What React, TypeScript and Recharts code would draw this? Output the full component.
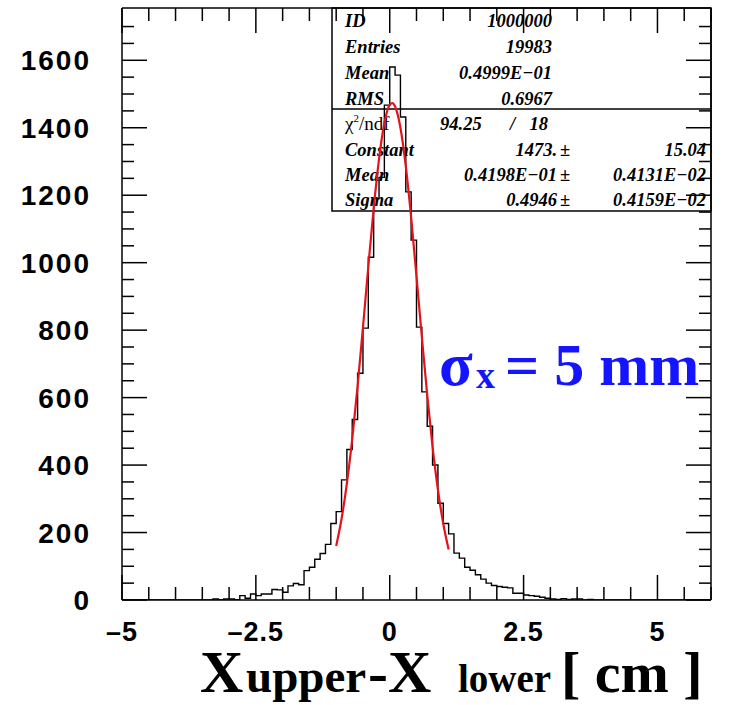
import React from "react";
import { ComposedChart, Line, XAxis, YAxis, ReferenceLine } from "recharts";

// histogram: counts per 0.1 cm bin, starting at -3.3 (everything outside is empty)
const binStart = -3.3;
const binWidth = 0.1;
const binCounts = [
  3, 1, 3, 3, 1, 13, 5, 18, 13, 18,
  18, 31, 30, 23, 42, 49, 45, 87, 97, 121,
  138, 165, 227, 262, 356, 446, 535, 672, 806, 1016,
  1190, 1253, 1467, 1580, 1556, 1432, 1210, 1067, 809, 617,
  515, 400, 287, 227, 196, 139, 124, 97, 88, 75,
  62, 50, 43, 40, 38, 36, 20, 20, 15, 13,
  11, 8, 5, 3, 2, 4, 2, 3, 3, 0,
  2,
];

// gaussian fit curve
const fitX = [-1.0, -0.9, -0.8, -0.7, -0.6, -0.5, -0.4, -0.3, -0.2, -0.1, 0.0, 0.05, 0.1, 0.2, 0.3, 0.4, 0.5, 0.6, 0.7, 0.8, 0.9, 1.0, 1.1];
const fitY = [160, 240, 346, 478, 634, 808, 988, 1160, 1307, 1414, 1468, 1473, 1463, 1400, 1286, 1134, 959, 780, 608, 455, 327, 226, 150];

const xTicks = [-5, -4.5, -4, -3.5, -3, -2.5, -2, -1.5, -1, -0.5, 0, 0.5, 1, 1.5, 2, 2.5, 3, 3.5, 4, 4.5, 5, 5.5, 6];
const xMajorTicks = [-5, -2.5, 0, 2.5, 5];
const xTickLabels = ["\u20135", "\u20132.5", "0", "2.5", "5"];
const yTicks = [0, 50, 100, 150, 200, 250, 300, 350, 400, 450, 500, 550, 600, 650, 700, 750, 800, 850, 900, 950, 1000, 1050, 1100, 1150, 1200, 1250, 1300, 1350, 1400, 1450, 1500, 1550, 1600, 1650, 1700];
const yMajorTicks = [0, 200, 400, 600, 800, 1000, 1200, 1400, 1600];

const statRows = [
  ["ID", "1000000"],
  ["Entries", "19983"],
  ["Mean", "0.4999E\u221201"],
  ["RMS", "0.6967"],
];
const chiNdf = ["94.25", "18"];
const fitRows = [
  ["Constant", "1473.", "15.04"],
  ["Mean", "0.4198E\u221201", "0.4131E\u221202"],
  ["Sigma", "0.4946", "0.4159E\u221202"],
];

const W = 732;
const H = 705;
const LEFT = 122;
const RIGHT = 711;
const TOP = 8;
const BOTTOM = 600;

const histData = [
  { x: -5, y: 0 },
  ...binCounts.map((c, i) => ({ x: binStart + i * binWidth, y: c })),
  { x: binStart + binCounts.length * binWidth, y: 0 },
  { x: 6, y: 0 },
];
const fitData = fitX.map((x, i) => ({ x, y: fitY[i] }));

const sans = "'Liberation Sans', Arial, Helvetica, sans-serif";
const serif = "'Liberation Serif', 'Times New Roman', serif";

const XTick = (props: any) => {
  const { x, payload } = props;
  const idx = xMajorTicks.indexOf(payload.value);
  const len = idx >= 0 ? 25 : 13;
  return (
    <g>
      <line x1={x} x2={x} y1={BOTTOM} y2={BOTTOM - len} stroke="#000" strokeWidth={1.5} />
      <line x1={x} x2={x} y1={TOP} y2={TOP + len} stroke="#000" strokeWidth={1.5} />
      {idx >= 0 && (
        <text x={x} y={641} textAnchor="middle" fontFamily={sans} fontWeight="bold" fontSize={27} letterSpacing={1} fill="#000">
          {xTickLabels[idx]}
        </text>
      )}
    </g>
  );
};

const YTick = (props: any) => {
  const { y, payload } = props;
  const major = yMajorTicks.includes(payload.value);
  const len = major ? 25 : 12;
  return (
    <g>
      <line x1={LEFT} x2={LEFT + len} y1={y} y2={y} stroke="#000" strokeWidth={1.5} />
      <line x1={RIGHT} x2={RIGHT - len} y1={y} y2={y} stroke="#000" strokeWidth={1.5} />
      {major && (
        <text x={91} y={y + 10} textAnchor="end" fontFamily={sans} fontWeight="bold" fontSize={28} letterSpacing={2} fill="#000">
          {payload.value}
        </text>
      )}
    </g>
  );
};

const Overlay = () => {
  const rowY = [27, 53, 79, 105];
  const fitY0 = [156, 181, 206];
  const st = { fontFamily: serif, fontStyle: "italic" as const, fontWeight: "bold" as const, fontSize: 18.5 };
  return (
    <svg width={W} height={H} style={{ position: "absolute", left: 0, top: 0 }}>
      <rect x={0} y={0} width={W} height={H} fill="#fff" />
      <rect x={332} y={TOP} width={RIGHT - 332} height={211 - TOP} fill="none" stroke="#000" strokeWidth={1.5} />
      <line x1={332} x2={RIGHT} y1={109} y2={109} stroke="#000" strokeWidth={1.5} />
      {statRows.map(([k, v], i) => (
        <g key={k + i} {...st}>
          <text x={345} y={rowY[i]}>{k}</text>
          <text x={552} y={rowY[i]} textAnchor="end">{v}</text>
        </g>
      ))}
      <text x={345} y={130} fontFamily={serif} fontSize={19}>
        {"\u03c7"}
        <tspan dy={-8} fontSize={11}>2</tspan>
        <tspan dy={8}>/ndf</tspan>
      </text>
      <g {...st}>
        <text x={440} y={130}>{chiNdf[0]}</text>
        <text x={510} y={130}>/</text>
        <text x={548} y={130} textAnchor="end">{chiNdf[1]}</text>
      </g>
      {fitRows.map(([k, v, e], i) => (
        <g key={k + i} {...st}>
          <text x={557} y={fitY0[i]} textAnchor="end">{v}</text>
          <text x={345} y={fitY0[i]}>{k}</text>
          <text x={560} y={fitY0[i]}>{"\u00b1"}</text>
          <text x={706} y={fitY0[i]} textAnchor="end">{e}</text>
        </g>
      ))}
      <text fill="#1414ff" fontFamily={serif} fontWeight="bold">
        <tspan x={439} y={385} fontSize={62}>{"\u03c3"}</tspan>
        <tspan x={476} y={388} fontSize={38}>x</tspan>
        <tspan x={505} y={385} fontSize={60}>= 5 mm</tspan>
      </text>
      <text fill="#000" fontFamily={serif} fontWeight="bold">
        <tspan x={200} y={692} fontSize={60}>X</tspan>
        <tspan x={246} y={692} fontSize={47}>upper</tspan>
        <tspan x={368} y={692} fontSize={60}>-X</tspan>
        <tspan x={458} y={692} fontSize={39}>lower</tspan>
        <tspan x={561} y={692} fontSize={58}>[ cm ]</tspan>
      </text>
    </svg>
  );
};

export default function App() {
  return (
    <div style={{ position: "absolute", left: 0, top: 0, width: W, height: H }}>
      <Overlay />
      <div style={{ position: "absolute", left: 0, top: 0 }}>
        <ComposedChart width={W} height={H} margin={{ top: TOP, right: W - RIGHT, bottom: 0, left: 0 }}>
          <XAxis
            dataKey="x"
            type="number"
            domain={[-5, 6]}
            allowDataOverflow
            ticks={xTicks}
            interval={0}
            height={H - BOTTOM}
            tickLine={false}
            axisLine={{ stroke: "#000", strokeWidth: 1.5 }}
            tick={(p: any) => <XTick {...p} />}
          />
          <YAxis
            type="number"
            domain={[0, 1755]}
            allowDataOverflow
            ticks={yTicks}
            interval={0}
            width={LEFT}
            tickLine={false}
            axisLine={{ stroke: "#000", strokeWidth: 1.5 }}
            tick={(p: any) => <YTick {...p} />}
          />
          <ReferenceLine x={6} stroke="#000" strokeWidth={1.5} />
          <ReferenceLine y={1755} stroke="#000" strokeWidth={1.5} />
          <Line data={histData} dataKey="y" type="stepAfter" stroke="#000" strokeWidth={1.4} dot={false} isAnimationActive={false} />
          <Line data={fitData} dataKey="y" type="monotone" stroke="#e3121b" strokeWidth={2.2} dot={false} isAnimationActive={false} />
        </ComposedChart>
      </div>
    </div>
  );
}
